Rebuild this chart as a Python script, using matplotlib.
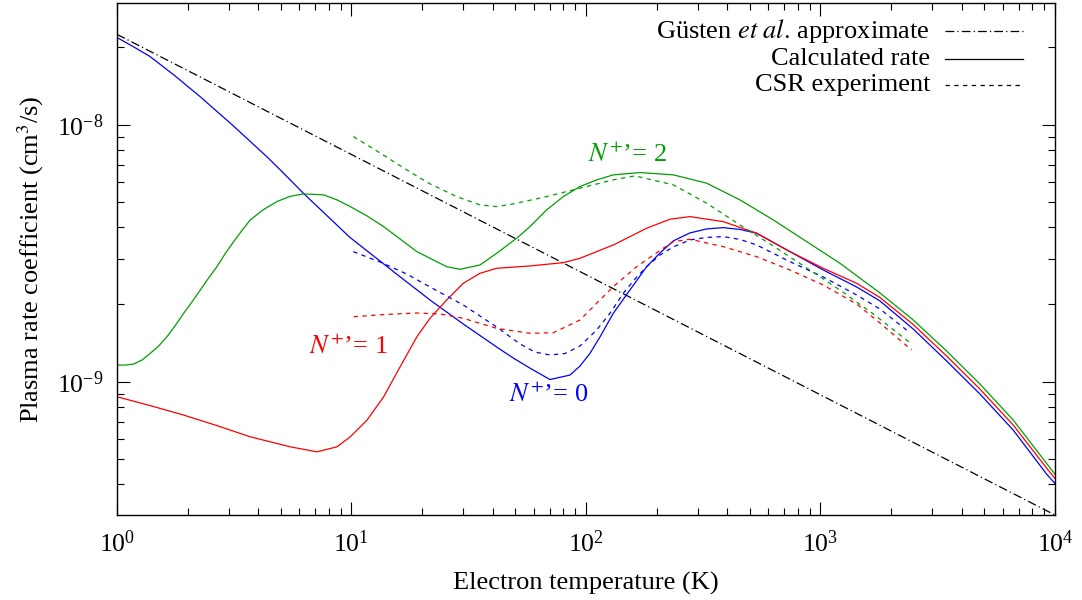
import numpy as np
import matplotlib
matplotlib.use('Agg')
import matplotlib.pyplot as plt

plt.rcParams['font.family'] = ['Liberation Serif', 'DejaVu Serif']
plt.rcParams['mathtext.fontset'] = 'stix'

# Gusten et al. approximation (straight line in log-log)
gusten_t = [1, 10000]
gusten_k = [2.25e-8, 3.03e-10]

# calculated rates, N+' = 0, 1, 2
calc0_t = [1, 1.176, 1.383, 1.767, 2.259, 3.124, 4.349, 4.970, 6.231, 9.854, 16.10, 21.62,
           29.98, 41.63, 48.98, 57.70, 70.24, 85.49, 94.28, 104.0, 114.7, 130.8, 154.0,
           181.5, 206.9, 235.7, 277.6, 327.2, 385.1, 453.6, 534.5, 741.3, 1028, 1427, 1794,
           2487, 3453, 4789, 6641, 9218, 10000]
calc0_k = [2.188e-8, 2.013e-8, 1.845e-8, 1.552e-8, 1.289e-8, 9.937e-9, 7.526e-9, 6.679e-9,
           5.420e-9, 3.645e-9, 2.564e-9, 2.081e-9, 1.678e-9, 1.365e-9, 1.237e-9, 1.130e-9,
           1.020e-9, 1.062e-9, 1.151e-9, 1.290e-9, 1.493e-9, 1.847e-9, 2.276e-9, 2.805e-9,
           3.172e-9, 3.533e-9, 3.796e-9, 3.934e-9, 3.980e-9, 3.916e-9, 3.786e-9, 3.209e-9,
           2.723e-9, 2.338e-9, 2.063e-9, 1.604e-9, 1.204e-9, 8.958e-10, 6.482e-10,
           4.368e-10, 4.019e-10]

calc1_t = [1, 1.387, 1.925, 2.669, 3.702, 5.483, 7.129, 8.673, 9.883, 11.65, 13.72, 16.10,
           19.02, 21.62, 25.47, 29.98, 35.32, 41.63, 57.70, 80.05, 94.28, 130.8, 181.5,
           228.2, 277.6, 385.1, 534.5, 741.3, 1028, 1427, 1794, 2487, 3453, 4789, 6641,
           9218, 10000]
calc1_k = [8.742e-10, 8.074e-10, 7.418e-10, 6.751e-10, 6.105e-10, 5.581e-10, 5.337e-10,
           5.581e-10, 6.105e-10, 7.091e-10, 8.742e-10, 1.141e-9, 1.497e-9, 1.766e-9,
           2.081e-9, 2.416e-9, 2.643e-9, 2.765e-9, 2.823e-9, 2.908e-9, 3.024e-9, 3.407e-9,
           3.959e-9, 4.291e-9, 4.393e-9, 4.200e-9, 3.786e-9, 3.209e-9, 2.765e-9, 2.416e-9,
           2.128e-9, 1.670e-9, 1.259e-9, 9.365e-10, 6.781e-10, 4.611e-10, 4.204e-10]

calc2_t = [1, 1.082, 1.178, 1.278, 1.387, 1.506, 1.634, 1.767, 1.925, 2.088, 2.266, 2.460,
           2.669, 2.888, 3.145, 3.412, 3.702, 4.195, 4.812, 5.467, 6.255, 7.609, 8.673,
           9.883, 11.65, 13.72, 16.10, 19.02, 21.62, 25.47, 29.02, 35.32, 41.63, 50.64,
           57.70, 68.00, 80.05, 94.28, 111.1, 130.8, 170.0, 235.7, 327.2, 453.6, 629.2,
           873.4, 1211, 1794, 2487, 3453, 4789, 6641, 9218, 10000]
calc2_k = [1.161e-9, 1.161e-9, 1.172e-9, 1.215e-9, 1.290e-9, 1.377e-9, 1.497e-9, 1.648e-9,
           1.847e-9, 2.045e-9, 2.276e-9, 2.535e-9, 2.805e-9, 3.143e-9, 3.511e-9, 3.881e-9,
           4.265e-9, 4.666e-9, 5.027e-9, 5.267e-9, 5.386e-9, 5.338e-9, 5.104e-9, 4.806e-9,
           4.420e-9, 4.016e-9, 3.597e-9, 3.209e-9, 3.024e-9, 2.805e-9, 2.740e-9, 2.848e-9,
           3.163e-9, 3.619e-9, 4.016e-9, 4.666e-9, 5.257e-9, 5.750e-9, 6.106e-9, 6.387e-9,
           6.520e-9, 6.387e-9, 5.928e-9, 5.104e-9, 4.265e-9, 3.511e-9, 2.892e-9, 2.216e-9,
           1.739e-9, 1.317e-9, 9.795e-10, 7.091e-10, 4.808e-10, 4.368e-10]

# CSR experiment
csr0_t = [10.18, 13.23, 17.20, 21.62, 29.98, 41.63, 52.31, 60.61, 70.24, 81.39, 94.28,
          111.1, 126.6, 144.2, 161.8, 181.5, 206.9, 235.7, 277.6, 327.2, 385.1, 453.6,
          534.5, 741.3, 1028, 1427, 1794, 2408]
csr0_k = [3.209e-9, 2.926e-9, 2.627e-9, 2.338e-9, 1.990e-9, 1.633e-9, 1.403e-9, 1.305e-9,
          1.271e-9, 1.288e-9, 1.377e-9, 1.590e-9, 1.847e-9, 2.210e-9, 2.512e-9, 2.805e-9,
          3.115e-9, 3.347e-9, 3.565e-9, 3.645e-9, 3.672e-9, 3.581e-9, 3.407e-9, 2.934e-9,
          2.557e-9, 2.176e-9, 1.919e-9, 1.552e-9]

csr1_t = [10.22, 13.90, 19.02, 23.85, 29.98, 41.63, 57.70, 72.55, 94.28, 111.1, 130.8,
          164.5, 213.6, 235.7, 277.6, 385.1, 534.5, 741.3, 1028, 1427, 1794, 2448]
csr1_k = [1.791e-9, 1.827e-9, 1.852e-9, 1.836e-9, 1.766e-9, 1.614e-9, 1.544e-9, 1.552e-9,
          1.739e-9, 2.021e-9, 2.345e-9, 2.805e-9, 3.309e-9, 3.511e-9, 3.587e-9, 3.356e-9,
          3.068e-9, 2.723e-9, 2.380e-9, 2.007e-9, 1.693e-9, 1.329e-9]

csr2_t = [10.18, 13.23, 17.20, 21.62, 28.10, 35.32, 41.63, 48.98, 68.00, 94.28, 130.8,
          161.8, 235.7, 327.2, 453.6, 629.2, 873.4, 1211, 1680, 2448]
csr2_k = [9.004e-9, 7.777e-9, 6.679e-9, 5.891e-9, 5.257e-9, 4.880e-9, 4.806e-9, 4.924e-9,
          5.257e-9, 5.668e-9, 6.106e-9, 6.330e-9, 5.839e-9, 4.955e-9, 4.077e-9, 3.377e-9,
          2.772e-9, 2.276e-9, 1.836e-9, 1.403e-9]

curve_labels = [r'$\mathit{N}^{+}$’= 0', r'$\mathit{N}^{+}$’= 1', r'$\mathit{N}^{+}$’= 2']
label_t = [69.5, 9.66, 149.6]
label_k = [8.87e-10, 1.36e-9, 7.63e-9]

blue = '#0000ff'
red = '#ff0000'
green = '#00a000'
dash = (0, (3.5, 3.5))
dashdot = (0, (7, 2.5, 1, 2.5))
lw = 0.9
fs = 19

fig = plt.figure(figsize=(10.82, 6.0), dpi=100)
ax = fig.add_axes([0.1081, 0.1417, 0.8669, 0.8533])

ax.plot(gusten_t, gusten_k, color='k', lw=lw, linestyle=dashdot)
ax.plot(calc0_t, calc0_k, color=blue, lw=lw)
ax.plot(calc1_t, calc1_k, color=red, lw=lw)
ax.plot(calc2_t, calc2_k, color=green, lw=lw)
ax.plot(csr0_t, csr0_k, color=blue, lw=lw, linestyle=dash)
ax.plot(csr1_t, csr1_k, color=red, lw=lw, linestyle=dash)
ax.plot(csr2_t, csr2_k, color=green, lw=lw, linestyle=dash)

ax.set_xscale('log')
ax.set_yscale('log')
ax.set_xlim(1, 1e4)
ax.set_ylim(3.03e-10, 2.98e-8)

ax.xaxis.set_major_locator(matplotlib.ticker.LogLocator(base=10, numticks=10))
ax.xaxis.set_minor_locator(matplotlib.ticker.LogLocator(base=10, subs=np.arange(2, 10), numticks=20))
ax.yaxis.set_minor_locator(matplotlib.ticker.LogLocator(base=10, subs=np.arange(2, 10), numticks=20))
ax.xaxis.set_minor_formatter(matplotlib.ticker.NullFormatter())
ax.yaxis.set_minor_formatter(matplotlib.ticker.NullFormatter())

ax.tick_params(which='both', direction='in', top=True, right=True, labelsize=18.5)
ax.tick_params(which='major', length=9.5, width=0.8)
ax.tick_params(which='minor', length=5, width=0.8)
ax.tick_params(axis='x', which='major', pad=11)
ax.tick_params(axis='y', which='major', pad=10)
for s in ax.spines.values():
    s.set_linewidth(1.0)

ax.set_xlabel('Electron temperature (K)', fontsize=fs)
ax.set_ylabel('Plasma rate coefficient (cm$^3$/s)', fontsize=fs)
ax.xaxis.set_label_coords(0.5, -0.112)
ax.yaxis.set_label_coords(-0.076, 0.5)

for lab, t, k, c in zip(curve_labels, label_t, label_k, [blue, red, green]):
    ax.text(t, k, lab, color=c, fontsize=fs, ha='center', va='center')

# legend drawn by hand: text right-aligned, line sample on the right
leg_labels = [r'Güsten $\mathit{et\ al.}\,$approximate', 'Calculated rate', 'CSR experiment']
leg_styles = [dashdot, '-', dash]
leg_y = [0.946, 0.891, 0.840]
for lab, ls, yy in zip(leg_labels, leg_styles, leg_y):
    ax.text(0.867, yy, lab, transform=ax.transAxes, fontsize=fs, ha='right', va='center')
    ax.plot([0.883, 0.966], [yy, yy], transform=ax.transAxes, color='k', lw=lw, linestyle=ls)

fig.savefig('out.png', dpi=100)
